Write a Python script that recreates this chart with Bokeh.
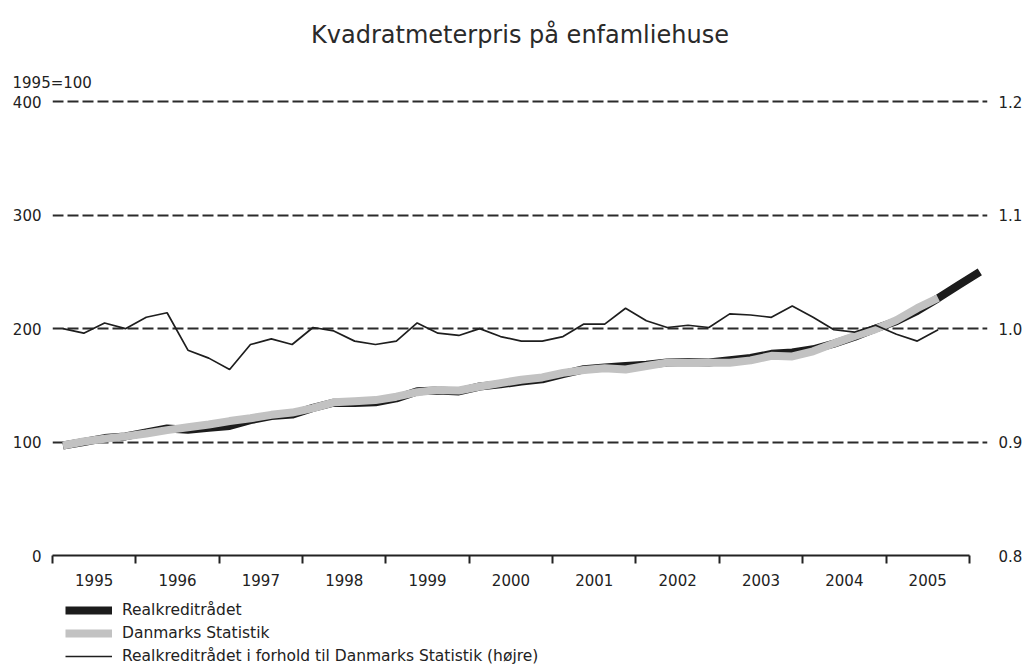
from bokeh.plotting import figure
from bokeh.layouts import column
from bokeh.models import (Range1d, LinearAxis, FixedTicker, Legend, LegendItem,
                          Title, PrintfTickFormatter)
from bokeh.embed import file_html
from bokeh.resources import INLINE

# ---- data (quarterly, first point = 1995 Q1) ----
years = ["1995", "1996", "1997", "1998", "1999", "2000",
         "2001", "2002", "2003", "2004", "2005"]

realkreditraadet = [97.0, 100.1, 103.5, 105.0, 108.6, 112.0, 110.9, 112.5,
                    114.2, 119.3, 122.9, 124.2, 130.1, 134.7, 134.5, 135.1,
                    138.5, 144.7, 145.4, 144.6, 149.0, 150.9, 153.3, 155.3,
                    159.9, 164.2, 165.7, 167.0, 168.2, 170.2, 170.5, 170.2,
                    172.2, 174.1, 177.8, 179.0, 181.8, 186.8, 192.9, 200.1,
                    206.5, 215.6, 226.8, 238.5, 250.0]

danmarks_statistik = [97.0, 100.5, 103.0, 105.0, 107.5, 110.5, 113.0, 115.5,
                      118.5, 121.0, 124.0, 126.0, 130.0, 135.0, 136.0, 137.0,
                      140.0, 144.0, 146.0, 145.5, 149.0, 152.0, 155.0, 157.0,
                      161.0, 163.5, 165.0, 164.0, 167.0, 170.0, 170.0, 170.0,
                      170.0, 172.0, 176.0, 175.5, 180.0, 187.0, 193.5, 199.5,
                      207.5, 218.0, 227.0]

ratio = [1.000, 0.996, 1.005, 1.000, 1.010, 1.014, 0.981, 0.974,
         0.964, 0.986, 0.991, 0.986, 1.001, 0.998, 0.989, 0.986,
         0.989, 1.005, 0.996, 0.994, 1.000, 0.993, 0.989, 0.989,
         0.993, 1.004, 1.004, 1.018, 1.007, 1.001, 1.003, 1.001,
         1.013, 1.012, 1.010, 1.020, 1.010, 0.999, 0.997, 1.003,
         0.995, 0.989, 0.999]

left_ticks = [0, 100, 200, 300, 400]
right_ticks = [0.8, 0.9, 1.0, 1.1, 1.2]
legend_labels = ["Realkreditrådet", "Danmarks Statistik",
                 "Realkreditrådet i forhold til Danmarks Statistik (højre)"]

x_rk = [i + 0.5 for i in range(len(realkreditraadet))]
x_ds = [i + 0.5 for i in range(len(danmarks_statistik))]
x_ratio = [i + 0.5 for i in range(len(ratio))]

FONT = "DejaVu Sans"
TXT = "#222222"
C_RK = "#1c1c1c"
C_DS = "#c2c2c2"
C_RATIO = "#1e1e1e"

p = figure(width=1025, height=590, output_backend="svg", toolbar_location=None,
           x_range=Range1d(0, 44.87), y_range=Range1d(0, 402),
           min_border_left=52, min_border_right=38, min_border_top=99,
           min_border_bottom=35, title=None)
p.outline_line_color = None
p.background_fill_color = "white"
p.border_fill_color = "white"

# titles (first added is closest to the frame)
sub = Title(text="1995=100", align="left", offset=-40, standoff=15,
            text_font=FONT, text_font_size="15px", text_font_style="normal",
            text_color=TXT)
p.add_layout(sub, "above")
main = Title(text="Kvadratmeterpris på enfamliehuse", align="center",
             standoff=32, text_font=FONT, text_font_size="24px",
             text_font_style="normal", text_color="#2a2a2a")
p.add_layout(main, "above")

# x axis
xa = p.xaxis[0]
xa.ticker = FixedTicker(ticks=[2 + 4 * k for k in range(len(years))],
                        minor_ticks=[4 * k for k in range(len(years) + 1)])
xa.major_label_overrides = {2 + 4 * k: y for k, y in enumerate(years)}
xa.bounds = (0, 44)
xa.axis_line_color = "#222222"
xa.axis_line_width = 2
xa.major_tick_line_color = None
xa.major_tick_out = 0
xa.major_tick_in = 0
xa.minor_tick_line_color = "#222222"
xa.minor_tick_line_width = 2
xa.minor_tick_out = 8
xa.minor_tick_in = 0
xa.major_label_standoff = 10
xa.major_label_text_font = FONT
xa.major_label_text_font_size = "15px"
xa.major_label_text_color = TXT

# left axis
ya = p.yaxis[0]
ya.ticker = FixedTicker(ticks=left_ticks)
ya.axis_line_color = None
ya.major_tick_line_color = None
ya.minor_tick_line_color = None
ya.major_tick_out = 0
ya.major_label_standoff = 11
ya.major_label_text_font = FONT
ya.major_label_text_font_size = "15px"
ya.major_label_text_color = TXT

# right axis
p.extra_y_ranges = {"ratio": Range1d(0.8, 1.202)}
ra = LinearAxis(y_range_name="ratio", ticker=FixedTicker(ticks=right_ticks),
                formatter=PrintfTickFormatter(format="%.1f"))
ra.axis_line_color = None
ra.major_tick_line_color = None
ra.minor_tick_line_color = None
ra.major_tick_out = 0
ra.major_label_standoff = 11
ra.major_label_text_font = FONT
ra.major_label_text_font_size = "15px"
ra.major_label_text_color = TXT
p.add_layout(ra, "right")

# grid
p.xgrid.grid_line_color = None
p.ygrid.ticker = FixedTicker(ticks=left_ticks[1:])
p.ygrid.grid_line_color = "#2b2b2b"
p.ygrid.grid_line_width = 2
p.ygrid.grid_line_dash = "11 4"

# series
p.line(x_rk, realkreditraadet, line_color=C_RK, line_width=8)
p.line(x_ds, danmarks_statistik, line_color=C_DS, line_width=8)
p.line(x_ratio, ratio, y_range_name="ratio", line_color=C_RATIO,
       line_width=1.7)

# legend below the chart (separate strip; its lines lie outside its view)
lg = figure(width=1025, height=76, output_backend="svg", toolbar_location=None,
            x_range=Range1d(0, 1), y_range=Range1d(10, 11),
            x_axis_type=None, y_axis_type=None,
            min_border_left=0, min_border_right=0, min_border_top=0,
            min_border_bottom=0)
lg.outline_line_color = None
lg.grid.visible = False
g1 = lg.line(x_rk, realkreditraadet, line_color=C_RK, line_width=8)
g2 = lg.line(x_ds, danmarks_statistik, line_color=C_DS, line_width=8)
g3 = lg.line(x_ratio, ratio, line_color=C_RATIO, line_width=1.7)

legend = Legend(items=[
    LegendItem(label=legend_labels[0], renderers=[g1]),
    LegendItem(label=legend_labels[1], renderers=[g2]),
    LegendItem(label=legend_labels[2], renderers=[g3]),
], location=(13, 0), orientation="vertical")
legend.margin = 0
legend.padding = 0
legend.spacing = 3
legend.glyph_width = 47
legend.glyph_height = 20
legend.label_height = 20
legend.label_standoff = 10
legend.label_text_font = FONT
legend.label_text_font_size = "15.5px"
legend.label_text_color = TXT
legend.border_line_color = None
legend.background_fill_alpha = 0
lg.add_layout(legend, "center")

layout = column(p, lg, spacing=0)
open("out.html", "w").write(file_html(layout, INLINE))
